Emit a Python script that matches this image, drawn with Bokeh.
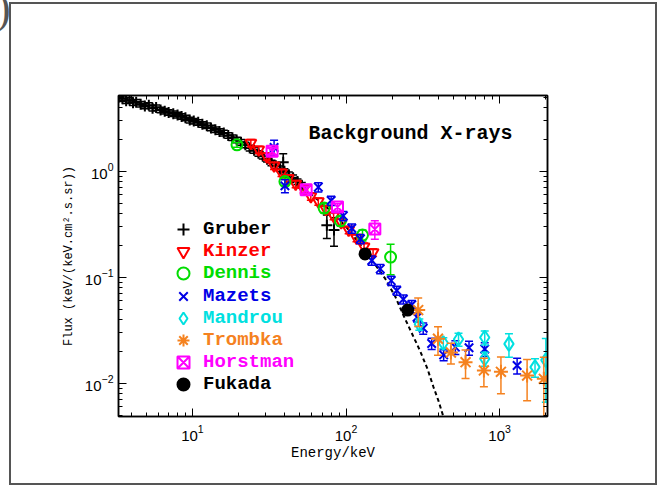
from bokeh.plotting import figure
from bokeh.models import (LogAxis, LogTicker, Legend, LegendItem, Label, Div,
                          Range1d, ColumnDataSource)
from bokeh.embed import file_html
from bokeh.resources import INLINE

# ---------------- data ----------------
GRUBER_E = [3.3, 3.5, 3.7, 3.9, 4.1, 4.3, 4.6, 4.9, 5.2, 5.5, 5.8, 6.2, 6.6, 7.0, 7.5,
            8.0, 8.5, 9.0, 9.6, 10.2, 10.9, 11.6, 12.4, 13.2, 14.1, 15.0, 16.0, 17.1,
            18.2, 19.4, 20.7, 22.1, 23.6, 25.2, 26.9, 28.7, 30.6, 32.7, 34.9, 37.2,
            39.7, 42.4, 45.2, 48.3, 51.5, 39.0, 75.0, 83.5]
GRUBER_F = [5.0, 4.85, 4.65, 4.7, 4.45, 4.5, 4.3, 4.15, 4.2, 3.95, 4.0, 3.8, 3.7, 3.6, 3.5,
            3.4, 3.3, 3.2, 3.05, 2.98, 2.9, 2.78, 2.7, 2.57, 2.47, 2.38, 2.3, 2.18,
            2.08, 1.98, 1.88, 1.78, 1.66, 1.58, 1.48, 1.39, 1.3, 1.2, 1.13, 1.06,
            1.0, 0.93, 0.87, 0.8, 0.74, 1.22, 0.31, 0.28]
GRUBER_ERR = [0.06] * 45 + [0.2, 0.25, 0.3]

KINZER_E = [24, 27, 30.5, 34, 38, 42, 47, 53, 59, 66, 74, 83, 93, 104, 117, 131, 150]
KINZER_F = [1.85, 1.6, 1.38, 1.13, 0.97, 0.86, 0.76, 0.68, 0.58, 0.52, 0.44, 0.38,
            0.33, 0.28, 0.235, 0.195, 0.172]
KINZER_ERR = [0.08] * 17

DENNIS_E = [19.5, 40, 72, 92, 128, 195]
DENNIS_F = [1.78, 0.8, 0.45, 0.34, 0.25, 0.155]
DENNIS_ERR = [0.05, 0.08, 0.1, 0.1, 0.12, 0.32]

MAZETS_E = [34, 40, 66, 80, 96, 109, 124, 147, 167, 197, 214, 236, 268, 290, 318,
            361, 432, 515, 632, 800, 1300]
MAZETS_F = [1.68, 0.73, 0.71, 0.53, 0.38, 0.29, 0.23, 0.144, 0.12, 0.093, 0.075,
            0.062, 0.055, 0.042, 0.033, 0.0237, 0.0185, 0.0219, 0.0216, 0.021, 0.0147]
MAZETS_ERR = [0.17, 0.14, 0.1, 0.1, 0.1, 0.1, 0.1, 0.1, 0.1, 0.1, 0.1, 0.1, 0.1, 0.1,
              0.12, 0.12, 0.12, 0.15, 0.15, 0.15, 0.17]

MANDROU_E = [300, 430, 540, 800, 800, 1150, 1700, 2000]
MANDROU_F = [0.036, 0.024, 0.026, 0.027, 0.017, 0.0235, 0.0142, 0.0165]
MANDROU_ERR = [0.12, 0.12, 0.14, 0.15, 0.15, 0.25, 0.2, 0.6]

TROMBKA_E = [295, 397, 482, 600, 790, 1020, 1510, 1940]
TROMBKA_F = [0.049, 0.0263, 0.0195, 0.0158, 0.0132, 0.0128, 0.0118, 0.011]
TROMBKA_ERR = [0.3, 0.3, 0.22, 0.3, 0.3, 0.38, 0.42, 0.6]

HORST_E = [33, 55, 88, 154]
HORST_F = [1.55, 0.67, 0.46, 0.285]
HORST_ERR = [0.08, 0.08, 0.08, 0.2]

FUKADA_E = [133, 252]
FUKADA_F = [0.166, 0.049]
FUKADA_ERR = [0.06, 0.06]

MODEL_E = [3.3, 4, 5, 6.5, 8, 10, 13, 17, 22, 28, 35, 45, 60, 80, 100, 125, 150, 180,
           210, 236, 270, 303, 340, 371, 400, 431, 470]
MODEL_F = [5.0, 4.6, 4.2, 3.75, 3.4, 3.05, 2.65, 2.25, 1.85, 1.5, 1.18, 0.88, 0.6,
           0.42, 0.3, 0.2, 0.14, 0.097, 0.065, 0.044, 0.029, 0.0203, 0.0135, 0.0092,
           0.0068, 0.0048, 0.0031]

X_RANGE = (3.3, 2050)
Y_RANGE = (0.00485, 5.2)

# ---------------- figure ----------------
page_frame = ", ".join([
    "linear-gradient(#555555, #555555) 10px 2px / 646px 2px no-repeat",
    "linear-gradient(#555555, #555555) 10px 483px / 646px 2px no-repeat",
    "linear-gradient(#555555, #555555) 9px 2px / 2px 483px no-repeat",
    "linear-gradient(#555555, #555555) 655px 2px / 2px 483px no-repeat",
    "#ffffff",
])

p = figure(width=670, height=487, x_axis_type="log", y_axis_type="log",
           x_range=Range1d(*X_RANGE), y_range=Range1d(*Y_RANGE),
           output_backend="svg", toolbar_location=None,
           min_border_left=118, min_border_right=123, min_border_top=95,
           min_border_bottom=71, background_fill_color="white",
           border_fill_color=None)
p.styles = {"background": page_frame}
p.xgrid.visible = False
p.ygrid.visible = False
p.outline_line_color = "black"
p.outline_line_width = 1.5

p.xaxis.ticker = LogTicker(num_minor_ticks=10)
p.yaxis.ticker = LogTicker(num_minor_ticks=10)
p.add_layout(LogAxis(ticker=LogTicker(num_minor_ticks=10), major_label_text_alpha=0), "above")
p.add_layout(LogAxis(ticker=LogTicker(num_minor_ticks=10), major_label_text_alpha=0), "right")

for ax in p.axis:
    ax.major_tick_in = 8
    ax.major_tick_out = 0
    ax.minor_tick_in = 4
    ax.minor_tick_out = 0
    ax.axis_line_color = "black"
    ax.axis_line_width = 1.5
    ax.major_tick_line_color = "black"
    ax.minor_tick_line_color = "black"
    ax.major_label_text_font = "Liberation Sans"
    ax.major_label_text_font_size = "15px"
    ax.major_label_text_color = "black"

xb = p.below[0]
yl = p.left[0]

xb.axis_label = "Energy/keV"
xb.axis_label_text_font = "Liberation Mono"
xb.axis_label_text_font_size = "14px"
xb.axis_label_text_font_style = "normal"
xb.axis_label_text_color = "black"
xb.axis_label_standoff = 1
xb.major_label_standoff = 8

yl.axis_label = "Flux (keV/(keV.cm².s.sr))"
yl.axis_label_text_font = "Liberation Mono"
yl.axis_label_text_font_size = "12px"
yl.axis_label_text_font_style = "normal"
yl.axis_label_text_color = "black"
yl.axis_label_standoff = 6
yl.major_label_standoff = 5

# model (dashed) curve
p.line(MODEL_E, MODEL_F, line_color="black", line_width=2, line_dash="4 3")

series = [
    ("Gruber", GRUBER_E, GRUBER_F, GRUBER_ERR, "black", "cross", 11, False),
    ("Kinzer", KINZER_E, KINZER_F, KINZER_ERR, "#FF0000", "inverted_triangle", 11, False),
    ("Dennis", DENNIS_E, DENNIS_F, DENNIS_ERR, "#00DD00", "circle", 11, False),
    ("Mazets", MAZETS_E, MAZETS_F, MAZETS_ERR, "#0000E6", "x", 12, False),
    ("Mandrou", MANDROU_E, MANDROU_F, MANDROU_ERR, "#00E0E0", "diamond", 14, False),
    ("Trombka", TROMBKA_E, TROMBKA_F, TROMBKA_ERR, "#F5821F", "asterisk", 14, False),
    ("Horstman", HORST_E, HORST_F, HORST_ERR, "#FF00FF", "square_x", 11, False),
    ("Fukada", FUKADA_E, FUKADA_F, FUKADA_ERR, "black", "circle", 11, True),
]

renderers = {}
for name, E, F, ERR, color, marker, size, filled in series:
    lo = [f * (1 - e) for f, e in zip(F, ERR)]
    hi = [f * (1 + e) for f, e in zip(F, ERR)]
    src = ColumnDataSource(dict(x=E, y=F, lo=lo, hi=hi))
    p.segment(x0="x", y0="lo", x1="x", y1="hi", source=src, line_color=color, line_width=1.5)
    p.scatter(x="x", y="lo", source=src, marker="dash", size=8, line_color=color, line_width=1.5)
    p.scatter(x="x", y="hi", source=src, marker="dash", size=8, line_color=color, line_width=1.5)
    r = p.scatter(x="x", y="y", source=src, marker=marker, size=size, line_color=color,
                  line_width=2, fill_color=color if filled else None)
    renderers[name] = (r, color)

# legends (one per entry so each label has its own colour)
row_centers = [229, 251, 273, 296, 318, 340, 362, 384]
frame_bottom = 416
for (name, *_rest), cy in zip(series, row_centers):
    r, color = renderers[name]
    lg = Legend(items=[LegendItem(label=name, renderers=[r])],
                location=(50, frame_bottom - cy - 15),
                glyph_width=30, glyph_height=30, label_standoff=5, padding=0, margin=0,
                spacing=0, border_line_alpha=0, background_fill_alpha=0,
                label_text_font="Liberation Mono", label_text_font_style="bold",
                label_text_font_size="19px", label_text_color=color)
    p.add_layout(lg, "center")

p.add_layout(Label(x=57, y=2.27, text="Background X-rays", text_font="Liberation Mono",
                   text_font_style="bold", text_font_size="20px", text_color="black",
                   text_baseline="middle"))

# stray parenthesis in the top-left corner of the original page
paren = Div(text=")", width=14, height=40,
            styles={"position": "absolute", "left": "-4px", "top": "-13px",
                    "font-family": "Liberation Serif", "font-size": "44px",
                    "line-height": "44px", "color": "#555555", "z-index": "5"})
p.elements = [paren]

open("out.html", "w").write(file_html(p, INLINE))
